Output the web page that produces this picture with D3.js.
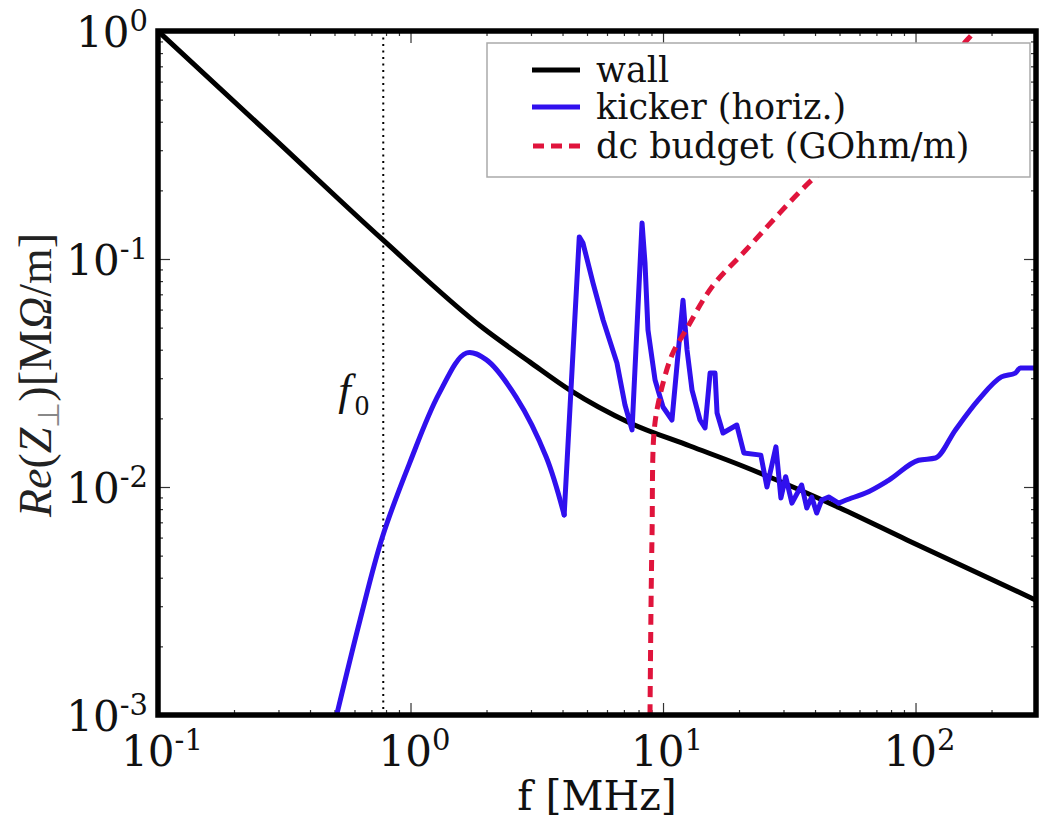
<!DOCTYPE html>
<html>
<head>
<meta charset="utf-8">
<script src="https://cdn.jsdelivr.net/npm/d3@7"></script>
<style>
  body { margin: 0; background: #fff; }
  svg { display: block; font-family: "DejaVu Serif", serif; }
</style>
</head>
<body>
<svg id="chart" width="1045" height="819"></svg>
<script>
// Resistive-wall impedance (MOhm/m) vs frequency (MHz)
const wallFreq = [0.1, 0.278, 0.778, 1.937, 2.974, 4.28, 7.40, 12.79, 20.18, 50.2, 92.5, 300];
const wallZ    = [1.0, 0.35, 0.1212, 0.0498, 0.0353, 0.0266, 0.0191, 0.01513, 0.01249, 0.00809, 0.00586, 0.00319];

// Horizontal kicker impedance
const kickerFreq = [0.51, 0.631, 0.774, 0.991, 1.30, 1.665, 2.0, 2.62, 3.45, 4.06,
  4.66, 4.82, 5.28, 5.79, 6.57, 7.07, 7.54,
  8.26, 8.485, 8.72, 9.30, 10.0, 10.85,
  12.0, 12.45, 13.03, 14.01, 14.67,
  15.36, 16.07, 16.37, 17.28, 19.6, 20.9, 24.4,
  25.8, 28.0, 29.3, 30.6, 32.4, 35.4, 37.1, 38.8, 40.6, 42.5, 45.3, 49.6, 55.8, 63.4, 78.2, 102.8, 120, 143.9,
  177.4, 218.8, 248.4, 260, 300];
const kickerZ = [0.001, 0.00261, 0.00604, 0.0127, 0.0258, 0.0387, 0.0361, 0.0248, 0.0135, 0.00754,
  0.125, 0.1175, 0.0785, 0.054, 0.035, 0.0229, 0.0178,
  0.144, 0.0961, 0.0488, 0.02946, 0.02244, 0.01967,
  0.066, 0.0399, 0.0266, 0.01967, 0.01815,
  0.0316, 0.0316, 0.0211, 0.01725, 0.0187, 0.0141, 0.0138,
  0.0100, 0.0150, 0.00895, 0.0111, 0.0085, 0.0102, 0.00809, 0.00904, 0.00769, 0.00877, 0.00904, 0.0085, 0.00895, 0.00941, 0.0107, 0.0131, 0.0134, 0.0178,
  0.0241, 0.0304, 0.0316, 0.0333, 0.0333];

// dc budget (GOhm/m)
const budgetFreq = [8.88, 8.97, 9.05, 9.21, 9.64, 10.85, 12.33, 15.62, 21.3, 38.8, 60.3, 86.8, 125, 160, 200];
const budgetZ    = [0.001, 0.0032, 0.00628, 0.01725, 0.0241, 0.0379, 0.0488, 0.0754, 0.1095, 0.222, 0.3325, 0.4735, 0.674, 0.913, 1.2];

// Revolution frequency marker
const f0 = 0.78;

const xMajor = [0.1, 1, 10, 100];
const xExponents = ["-1", "0", "1", "2"];
const yMajor = [1, 0.1, 0.01, 0.001];
const yExponents = ["0", "-1", "-2", "-3"];
const legendLabels = ["wall", "kicker (horiz.)", "dc budget (GOhm/m)"];
const seriesColors = ["#000000", "#3010ee", "#e0143c"];

const plot = { left: 158, right: 1036, top: 31, bottom: 715 };

const svg = d3.select("#chart");
const x = d3.scaleLog().domain([0.1, 300]).range([plot.left, plot.right]);
const y = d3.scaleLog().domain([1e-3, 1]).range([plot.bottom, plot.top]);

function minorTicks(lo, hi) {
  const out = [];
  for (let p = -4; p <= 3; p++) {
    for (let m = 2; m <= 9; m++) {
      const v = m * Math.pow(10, p);
      if (v > lo && v < hi) out.push(v);
    }
  }
  return out;
}
const xMinor = minorTicks(0.1, 300);
const yMinor = minorTicks(1e-3, 1);

// inward ticks on all four sides
function drawTicks(axisGen, transform, values, size) {
  const g = svg.append("g").attr("transform", transform)
    .call(axisGen.tickValues(values).tickSize(-size).tickFormat(""));
  g.select(".domain").remove();
  g.selectAll(".tick line").attr("stroke", "#333").attr("stroke-width", 1.2);
}
drawTicks(d3.axisBottom(x), `translate(0,${plot.bottom})`, xMajor, 12);
drawTicks(d3.axisBottom(x), `translate(0,${plot.bottom})`, xMinor, 5);
drawTicks(d3.axisTop(x), `translate(0,${plot.top})`, xMajor, 12);
drawTicks(d3.axisTop(x), `translate(0,${plot.top})`, xMinor, 5);
drawTicks(d3.axisLeft(y), `translate(${plot.left},0)`, yMajor, 12);
drawTicks(d3.axisLeft(y), `translate(${plot.left},0)`, yMinor, 5);
drawTicks(d3.axisRight(y), `translate(${plot.right},0)`, yMajor, 12);
drawTicks(d3.axisRight(y), `translate(${plot.right},0)`, yMinor, 5);

// clip region for data
svg.append("clipPath").attr("id", "plotClip")
  .append("rect")
  .attr("x", plot.left).attr("y", plot.top)
  .attr("width", plot.right - plot.left).attr("height", plot.bottom - plot.top);

const data = svg.append("g").attr("clip-path", "url(#plotClip)");

// f0 marker
data.append("line")
  .attr("x1", x(f0)).attr("x2", x(f0))
  .attr("y1", plot.top).attr("y2", plot.bottom)
  .attr("stroke", "#000").attr("stroke-width", 2)
  .attr("stroke-dasharray", "2,4.5");

const zip = (a, b) => a.map((v, i) => [v, b[i]]);
const smooth = d3.line().x(d => x(d[0])).y(d => y(d[1])).curve(d3.curveMonotoneX);
const rounded = d3.line().x(d => x(d[0])).y(d => y(d[1])).curve(d3.curveCatmullRom.alpha(0.5));
const sharp = d3.line().x(d => x(d[0])).y(d => y(d[1])).curve(d3.curveLinear);

data.append("path").datum(zip(wallFreq, wallZ))
  .attr("d", smooth).attr("fill", "none")
  .attr("stroke", seriesColors[0]).attr("stroke-width", 5).attr("stroke-linejoin", "round");

// kicker: smooth broad hump, sharp resonances point to point, smooth high-frequency tail
const kicker = zip(kickerFreq, kickerZ);
const humpEnd = 4.06, tailStart = 49.6;
const kickerG = data.append("g")
  .attr("fill", "none").attr("stroke", seriesColors[1]).attr("stroke-width", 5)
  .attr("stroke-linejoin", "round").attr("stroke-linecap", "round");
kickerG.append("path").datum(kicker.filter(d => d[0] <= humpEnd)).attr("d", rounded);
kickerG.append("path").datum(kicker.filter(d => d[0] >= humpEnd && d[0] <= tailStart)).attr("d", sharp);
kickerG.append("path").datum(kicker.filter(d => d[0] >= tailStart)).attr("d", smooth);

data.append("path").datum(zip(budgetFreq, budgetZ))
  .attr("d", rounded)
  .attr("fill", "none")
  .attr("stroke", seriesColors[2]).attr("stroke-width", 5)
  .attr("stroke-dasharray", "11,7");

// f0 label
const f0Label = svg.append("text")
  .attr("x", x(f0) - 45).attr("y", 405)
  .attr("font-family", "'Liberation Serif', serif")
  .attr("font-size", 45).attr("fill", "#111");
f0Label.append("tspan").attr("font-style", "italic").text("f");
f0Label.append("tspan").attr("font-size", 29).attr("dx", 4).attr("dy", 10).text("0");

// legend
const lg = svg.append("g");
lg.append("rect")
  .attr("x", 487).attr("y", 43).attr("width", 543).attr("height", 134)
  .attr("fill", "#fff").attr("stroke", "#aaa").attr("stroke-width", 1.5);
const rowY = [70, 107, 146];
legendLabels.forEach((lab, i) => {
  const l = lg.append("line")
    .attr("x1", 532).attr("x2", 580).attr("y1", rowY[i]).attr("y2", rowY[i])
    .attr("stroke", seriesColors[i]).attr("stroke-width", 5);
  if (i === 2) l.attr("stroke-dasharray", "11,7").attr("x1", 533);
  lg.append("text")
    .attr("x", 596).attr("y", rowY[i] + 12)
    .attr("font-size", 35).attr("fill", "#111")
    .text(lab);
});

// frame
svg.append("rect")
  .attr("x", plot.left).attr("y", plot.top)
  .attr("width", plot.right - plot.left).attr("height", plot.bottom - plot.top)
  .attr("fill", "none").attr("stroke", "#000").attr("stroke-width", 5.5);

// x tick labels
xMajor.forEach((v, i) => {
  const t = svg.append("text")
    .attr("x", x(v) + 4).attr("y", 766)
    .attr("text-anchor", "middle").attr("font-size", 42).attr("fill", "#111");
  t.append("tspan").text("10");
  t.append("tspan").attr("font-size", 29).attr("dy", -16).text(xExponents[i]);
});

// y tick labels
yMajor.forEach((v, i) => {
  const t = svg.append("text")
    .attr("x", 148).attr("y", y(v) + 16)
    .attr("text-anchor", "end").attr("font-size", 42).attr("fill", "#111");
  t.append("tspan").text("10");
  t.append("tspan").attr("font-size", 29).attr("dy", -16).text(yExponents[i]);
});

// x axis title
svg.append("text")
  .attr("x", (plot.left + plot.right) / 2).attr("y", 810)
  .attr("text-anchor", "middle").attr("font-size", 41).attr("fill", "#111")
  .text("f [MHz]");

// y axis title
const yt = svg.append("text")
  .attr("transform", `translate(51,${(plot.top + plot.bottom) / 2 + 2}) rotate(-90)`)
  .attr("text-anchor", "middle")
  .attr("font-family", "'Liberation Serif', serif")
  .attr("font-size", 46).attr("fill", "#222");
yt.append("tspan").attr("font-style", "italic").text("Re");
yt.append("tspan").text("(");
yt.append("tspan").attr("font-style", "italic").text("Z");
yt.append("tspan").attr("font-size", 30).attr("dy", 8).attr("fill", "#888").text("⊥");
yt.append("tspan").attr("dy", -8).text(")[M");
yt.append("tspan").attr("font-style", "italic").text("Ω");
yt.append("tspan").text("/m]");
</script>
</body>
</html>
